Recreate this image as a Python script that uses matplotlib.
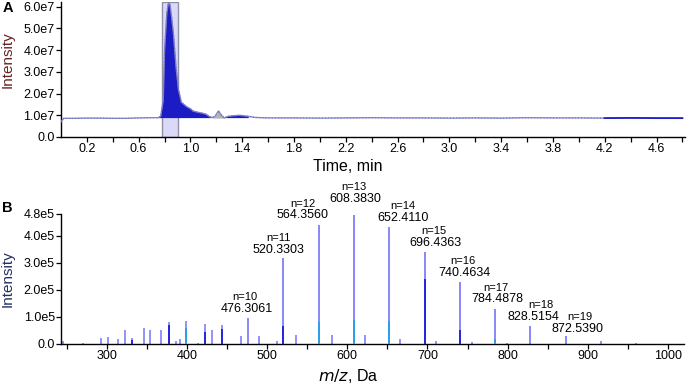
import matplotlib
matplotlib.use("Agg")
import matplotlib.pyplot as plt
import numpy as np

plt.rcParams['font.family'] = ['Liberation Sans', 'DejaVu Sans']

# ---------------- Panel A data (XIC chromatogram) ----------------
time_min = [0.0, 0.02, 0.1, 0.2, 0.3, 0.4, 0.5, 0.6, 0.7, 0.75, 0.77, 0.79, 0.80,
            0.817, 0.83, 0.842, 0.855, 0.868, 0.889, 0.907, 0.93, 0.95, 0.97, 1.0,
            1.02, 1.05, 1.09, 1.12, 1.15, 1.17, 1.19, 1.216, 1.24, 1.26, 1.29, 1.33,
            1.38, 1.45, 1.5, 1.6, 1.8, 2.0, 2.2, 2.4, 2.6, 2.8, 3.0, 3.2, 3.4, 3.6,
            3.8, 4.0, 4.2, 4.4, 4.6, 4.8]
intensity_a = [0.70, 0.86, 0.86, 0.87, 0.87, 0.86, 0.86, 0.88, 0.89, 0.89, 0.95, 1.7,
               4.0, 5.7, 6.2, 6.1, 5.5, 4.8, 3.2, 2.2, 1.6, 1.5, 1.4, 1.3, 1.2, 1.15,
               1.1, 1.05, 0.93, 0.90, 0.95, 1.2, 1.0, 0.88, 0.95, 0.98, 1.0, 0.95,
               0.90, 0.88, 0.88, 0.87, 0.88, 0.89, 0.88, 0.88, 0.87, 0.88, 0.87, 0.89,
               0.88, 0.88, 0.87, 0.88, 0.87, 0.87]  # x 1e7
baseline_a = 0.87  # x 1e7
highlight_window = (0.783, 0.902)
gray_window = (1.17, 1.26)
a_xticks = [0.2, 0.6, 1.0, 1.4, 1.8, 2.2, 2.6, 3.0, 3.4, 3.8, 4.2, 4.6]
a_yticks = [0, 1e7, 2e7, 3e7, 4e7, 5e7, 6e7]
a_yticklabels = ['0.0', '1.0e7', '2.0e7', '3.0e7', '4.0e7', '5.0e7', '6.0e7']

# ---------------- Panel B data (mass spectrum) ----------------
n_labels = [10, 11, 12, 13, 14, 15, 16, 17, 18, 19]
mz_major = [476.3061, 520.3303, 564.3560, 608.3830, 652.4110, 696.4363,
            740.4634, 784.4878, 828.5154, 872.5390]
int_major = [0.95e5, 3.19e5, 4.38e5, 4.75e5, 4.31e5, 3.38e5, 2.28e5, 1.30e5,
             0.68e5, 0.31e5]
mz_minor = [246, 271, 292.3, 301.3, 314, 323.4, 332, 346, 354, 368, 377.7, 386.7,
            391, 399.5, 414, 422.5, 431, 444.3, 467.3, 490, 512, 535.5, 580.7,
            622, 666, 711, 755, 799, 916, 960]
int_minor = [0.10e5, 0.05e5, 0.23e5, 0.27e5, 0.20e5, 0.52e5, 0.23e5, 0.58e5,
             0.52e5, 0.52e5, 0.80e5, 0.10e5, 0.20e5, 0.86e5, 0.05e5, 0.74e5,
             0.50e5, 0.70e5, 0.30e5, 0.30e5, 0.12e5, 0.33e5, 0.35e5, 0.33e5,
             0.20e5, 0.12e5, 0.07e5, 0.04e5, 0.12e5, 0.05e5]
# darker / cyan lower parts of some peaks (isotope overlap)
mz_dark = [377.7, 422.5, 444.3, 520.3303, 696.4363, 740.4634, 331.0]
int_dark = [0.70e5, 0.45e5, 0.55e5, 0.65e5, 2.40e5, 0.50e5, 0.15e5]
mz_cyan = [399.5, 564.3560, 608.3830, 652.4110, 784.4878]
int_cyan = [0.60e5, 0.80e5, 0.90e5, 0.85e5, 0.20e5]
b_yticks = [0, 1e5, 2e5, 3e5, 4e5, 4.8e5]
b_yticklabels = ['0.0', '1.0e5', '2.0e5', '3.0e5', '4.0e5', '4.8e5']
b_xticks = [300, 400, 500, 600, 700, 800, 900, 1000]

# label offsets in pixels (dx for number line, dx for n line, dy of number line)
lab_dx_num = [-1, -5, -16, 1, 14, 11, 5, 2, 3, 12]
lab_dx_n = [-3, -5, -16, 0, 14, 9, 3, 1, 10, 14]
lab_dy = [9.5, 8, 10, 16.5, 9.5, 9.5, 9.5, 9.5, 9, 6.5]

W, H = 689, 386
fig = plt.figure(figsize=(W / 100, H / 100), dpi=100)

def rect(l, t, r, b):
    return [l / W, 1 - b / H, (r - l) / W, (b - t) / H]

tick_fs = 9

# ---------------- Panel A ----------------
axA = fig.add_axes(rect(61, 2, 685, 137))
t = np.array(time_min)
ia = np.array(intensity_a) * 1e7
axA.axvspan(*highlight_window, facecolor='#dadaf8', edgecolor='#9090a8', lw=1.0, zorder=1)
main_mask = ((t >= 0.75) & (t <= gray_window[0])) | ((t >= gray_window[1]) & (t <= 1.45))
axA.fill_between(t, baseline_a * 1e7, ia, where=main_mask, color='#1c1cc4', lw=0, zorder=2)
gmask = (t >= gray_window[0]) & (t <= gray_window[1])
axA.fill_between(t, baseline_a * 1e7, ia, where=gmask, color='#b4b4b4', lw=0, zorder=2)
axA.plot(t, ia, color='#7c7cf0', lw=0.9, zorder=3)
axA.plot(t, ia, color='#808080', lw=0.9, ls=(0, (1, 1.5)), zorder=3)
tail = t >= 4.2
axA.plot(t[tail], ia[tail], color='#2020c8', lw=1.3, zorder=3)

axA.set_xlim(0, 4.82)
axA.set_ylim(0, 6.22e7)
axA.set_xticks(a_xticks)
axA.set_xticklabels([f'{v:.1f}' for v in a_xticks])
axA.set_xticks(np.round(np.arange(0.4, 4.81, 0.4), 2), minor=True)
axA.set_yticks(a_yticks)
axA.set_yticklabels(a_yticklabels)
for s in ['top', 'right']:
    axA.spines[s].set_visible(False)
for s in ['left', 'bottom']:
    axA.spines[s].set_linewidth(1.0)
axA.tick_params(axis='both', which='both', direction='out', length=3.5, width=0.9,
                labelsize=tick_fs, pad=1.0)
axA.set_xlabel('Time, min', fontsize=11.5)
axA.xaxis.set_label_coords((348 - 61) / 624, -(167 - 137) / 135, transform=axA.transAxes)
axA.xaxis.label.set_va('center')
axA.set_ylabel('Intensity', fontsize=11, color='#6a2222')
axA.yaxis.set_label_coords(-(61 - 7.5) / 624, (137 - 60) / 135, transform=axA.transAxes)
axA.yaxis.label.set_va('center')

# ---------------- Panel B ----------------
axB = fig.add_axes(rect(61, 214, 684, 344))
axB.vlines(mz_minor, 0, int_minor, color='#7f7ff8', lw=1.2, zorder=2)
axB.vlines(mz_major, 0, int_major, color='#7f7ff8', lw=1.3, zorder=2)
axB.vlines(mz_dark, 0, int_dark, color='#2424e0', lw=1.4, zorder=3)
axB.vlines(mz_cyan, 0, int_cyan, color='#2aa0e8', lw=1.4, zorder=3)
axB.set_xlim(243, 1020)
axB.set_ylim(0, 4.8e5)
axB.set_xticks(b_xticks)
axB.set_xticks(np.arange(250, 1001, 50), minor=True)
axB.set_yticks(b_yticks)
axB.set_yticklabels(b_yticklabels)
for s in ['top', 'right']:
    axB.spines[s].set_visible(False)
for s in ['left', 'bottom']:
    axB.spines[s].set_linewidth(1.0)
axB.tick_params(axis='both', which='both', direction='out', length=3.5, width=0.9,
                labelsize=tick_fs, pad=1.0)
axB.set_xlabel(r'$\it{m/z}$, Da', fontsize=11.5)
axB.xaxis.set_label_coords((348 - 61) / 623, -(376 - 344) / 130, transform=axB.transAxes)
axB.xaxis.label.set_va('center')
axB.set_ylabel('Intensity', fontsize=11, color='#22305e')
axB.yaxis.set_label_coords(-(61 - 7.5) / 623, 0.5, transform=axB.transAxes)
axB.yaxis.label.set_va('center')

for i, (n, mz, h) in enumerate(zip(n_labels, mz_major, int_major)):
    axB.annotate(f'{mz:.4f}', xy=(mz, h), xytext=(lab_dx_num[i], lab_dy[i]),
                 textcoords='offset pixels', ha='center', va='center', fontsize=9)
    axB.annotate(f'n={n}', xy=(mz, h), xytext=(lab_dx_n[i], lab_dy[i] + 11.7),
                 textcoords='offset pixels', ha='center', va='center', fontsize=8)

fig.text(3 / W, 1 - 8 / H, 'A', fontsize=10.5, fontweight='bold', va='center', ha='left')
fig.text(2 / W, 1 - 208 / H, 'B', fontsize=10.5, fontweight='bold', va='center', ha='left')

fig.savefig('out.png', dpi=100)
